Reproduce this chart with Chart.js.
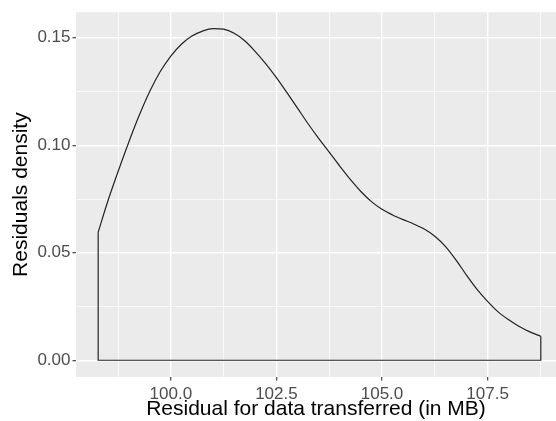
<!DOCTYPE html>
<html>
<head>
<meta charset="utf-8">
<script src="https://cdn.jsdelivr.net/npm/chart.js@4/dist/chart.umd.min.js"></script>
<style>
  html, body { margin: 0; padding: 0; background: #fff; }
  #wrap { width: 556px; height: 421px; }
</style>
</head>
<body>
<div id="wrap"><canvas id="densityChart"></canvas></div>
<script>
// density curve
var residualX = [98.28, 98.5, 98.75, 99.0, 99.25, 99.5, 99.75, 100.0, 100.25, 100.5,
                 100.75, 101.0, 101.25, 101.5, 101.75, 102.0, 102.25, 102.5, 102.75, 103.0,
                 103.25, 103.5, 103.75, 104.0, 104.25, 104.5, 104.75, 105.0, 105.25, 105.5,
                 105.75, 106.0, 106.25, 106.5, 106.75, 107.0, 107.25, 107.5, 107.75, 108.0,
                 108.25, 108.5, 108.76];
var densityY  = [0.0595, 0.0735, 0.0877, 0.1012, 0.1138, 0.1250, 0.1343, 0.1415, 0.1470, 0.1508,
                 0.1531, 0.1543, 0.1540, 0.1521, 0.1486, 0.1436, 0.1379, 0.1315, 0.1245, 0.1173,
                 0.1100, 0.1032, 0.0968, 0.0903, 0.0841, 0.0785, 0.0738, 0.0702, 0.0676, 0.0654,
                 0.0634, 0.0610, 0.0577, 0.0530, 0.0467, 0.0396, 0.0330, 0.0274, 0.0225, 0.0188,
                 0.0157, 0.0132, 0.0111];

var xMajor = [100.0, 102.5, 105.0, 107.5];
var xMinor = [98.75, 101.25, 103.75, 106.25, 108.75];
var yMajor = [0.00, 0.05, 0.10, 0.15];
var yMinor = [0.025, 0.075, 0.125];

var xTitle = 'Residual for data transferred (in MB)';
var yTitle = 'Residuals density';

var FONT = "'Liberation Sans', Arial, Helvetica, sans-serif";

function isMajor(list, v) {
    for (var i = 0; i < list.length; i++) {
        if (Math.abs(list[i] - v) < 1e-9) return true;
    }
    return false;
}

var curve = residualX.map(function (x, i) { return { x: x, y: densityY[i] }; });
var last = residualX.length - 1;
// bottom and both sides of the density outline
var outline = [
    { x: residualX[0], y: densityY[0] },
    { x: residualX[0], y: 0 },
    { x: residualX[last], y: 0 },
    { x: residualX[last], y: densityY[last] }
];

// grey panel behind the plot
var panelBg = {
    id: 'panelBg',
    beforeDraw: function (chart) {
        var a = chart.chartArea, c = chart.ctx;
        c.save();
        c.fillStyle = '#EBEBEB';
        c.fillRect(a.left, a.top, a.right - a.left, a.bottom - a.top);
        c.restore();
    }
};

function axisTicks(major, minor) {
    return function (scale) {
        var all = major.concat(minor).sort(function (a, b) { return a - b; });
        scale.ticks = all.map(function (v) { return { value: v }; });
    };
}

var ctx = document.getElementById('densityChart').getContext('2d');
new Chart(ctx, {
    type: 'scatter',
    data: {
        datasets: [
            { data: curve, showLine: true, borderColor: '#222222', borderWidth: 1.2,
              pointRadius: 0, cubicInterpolationMode: 'monotone', fill: false },
            { data: outline, showLine: true, borderColor: '#222222', borderWidth: 1.2,
              pointRadius: 0, tension: 0, fill: false }
        ]
    },
    options: {
        responsive: true,
        maintainAspectRatio: false,
        animation: false,
        layout: { padding: { top: 9, right: 0, left: 0, bottom: 0 } },
        plugins: { legend: { display: false }, tooltip: { enabled: false } },
        scales: {
            x: {
                type: 'linear',
                min: 97.755,
                max: 109.12,
                afterBuildTicks: axisTicks(xMajor, xMinor),
                afterFit: function (s) { s.height = 44; },
                border: { display: false },
                grid: {
                    color: '#FFFFFF',
                    lineWidth: function (c) { return isMajor(xMajor, c.tick.value) ? 1.4 : 0.7; },
                    tickColor: function (c) { return isMajor(xMajor, c.tick.value) ? '#333333' : 'rgba(0,0,0,0)'; },
                    tickLength: 3.5,
                    tickWidth: 1.1
                },
                ticks: {
                    autoSkip: false,
                    maxRotation: 0,
                    padding: 4,
                    color: '#4D4D4D',
                    font: { family: FONT, size: 17 },
                    callback: function (v) { return isMajor(xMajor, v) ? v.toFixed(1) : ''; }
                },
                title: {
                    display: true,
                    text: xTitle,
                    color: '#000000',
                    font: { family: FONT, size: 21 },
                    padding: { top: 0, bottom: -1 }
                }
            },
            y: {
                type: 'linear',
                min: -0.0078,
                max: 0.1619,
                afterBuildTicks: axisTicks(yMajor, yMinor),
                afterFit: function (s) { s.width = 76; },
                border: { display: false },
                grid: {
                    color: '#FFFFFF',
                    lineWidth: function (c) { return isMajor(yMajor, c.tick.value) ? 1.4 : 0.7; },
                    tickColor: function (c) { return isMajor(yMajor, c.tick.value) ? '#333333' : 'rgba(0,0,0,0)'; },
                    tickLength: 3.5,
                    tickWidth: 1.1
                },
                ticks: {
                    autoSkip: false,
                    padding: 2,
                    color: '#4D4D4D',
                    font: { family: FONT, size: 17 },
                    callback: function (v) { return isMajor(yMajor, v) ? v.toFixed(2) : ''; }
                },
                title: {
                    display: true,
                    text: yTitle,
                    color: '#000000',
                    font: { family: FONT, size: 21 },
                    padding: { top: 9, bottom: 0 }
                }
            }
        }
    },
    plugins: [panelBg]
});
</script>
</body>
</html>
